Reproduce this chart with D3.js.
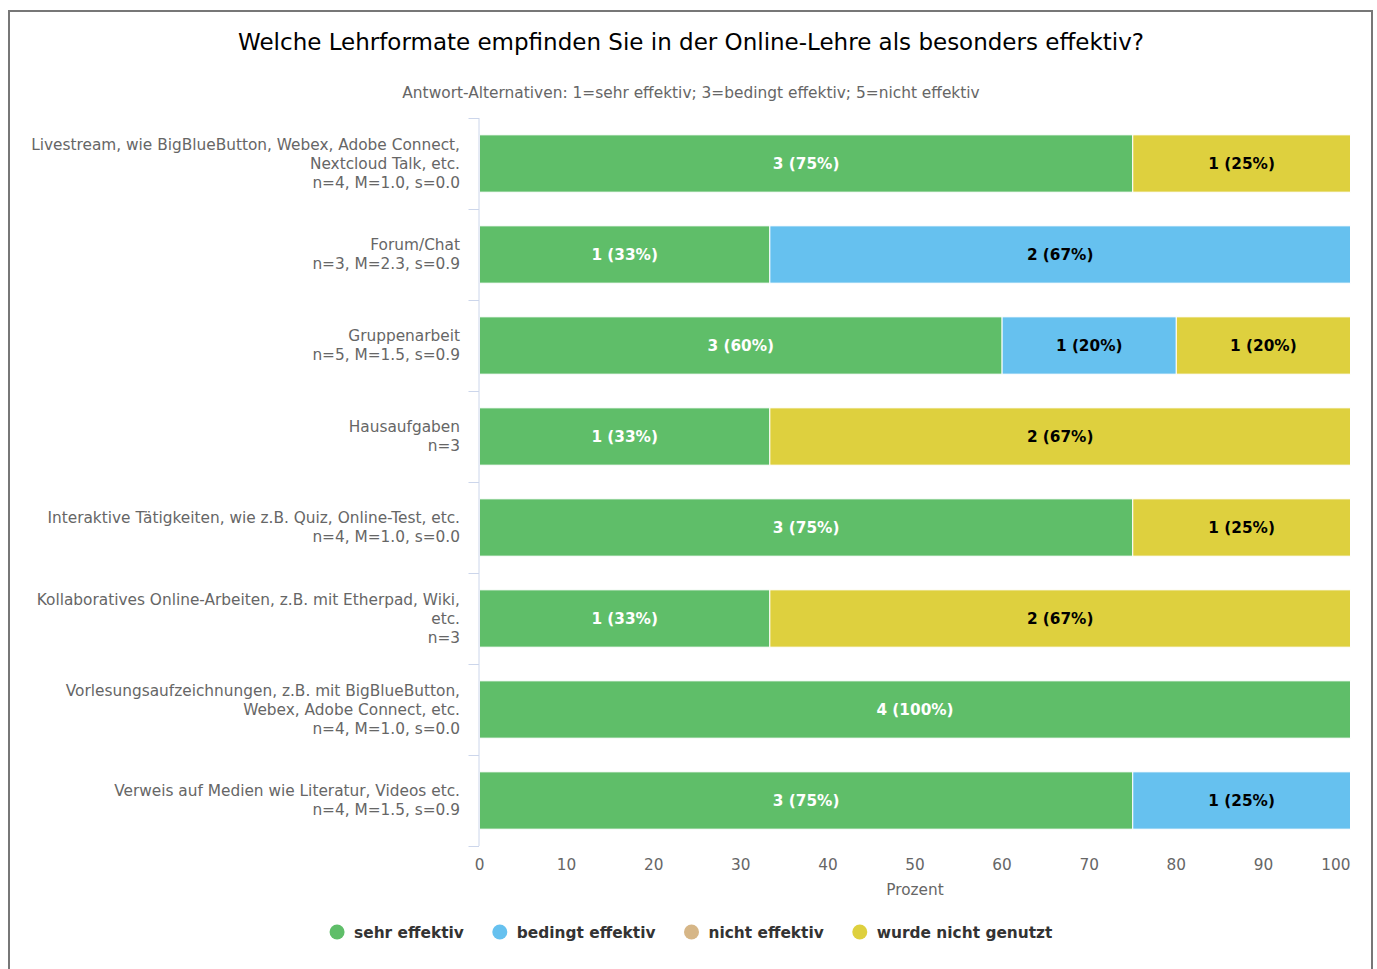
<!DOCTYPE html>
<html>
<head>
<meta charset="utf-8">
<script src="https://cdn.jsdelivr.net/npm/d3@7"></script>
<style>
  html, body { margin: 0; padding: 0; background: #fff; }
  svg { display: block; font-family: "DejaVu Sans", sans-serif; }
</style>
</head>
<body>
<svg id="chart" width="1377" height="969"></svg>
<script>
const title = "Welche Lehrformate empfinden Sie in der Online-Lehre als besonders effektiv?";
const subtitle = "Antwort-Alternativen: 1=sehr effektiv; 3=bedingt effektiv; 5=nicht effektiv";
const categories = [
  ["Livestream, wie BigBlueButton, Webex, Adobe Connect,", "Nextcloud Talk, etc.", "n=4, M=1.0, s=0.0"],
  ["Forum/Chat", "n=3, M=2.3, s=0.9"],
  ["Gruppenarbeit", "n=5, M=1.5, s=0.9"],
  ["Hausaufgaben", "n=3"],
  ["Interaktive Tätigkeiten, wie z.B. Quiz, Online-Test, etc.", "n=4, M=1.0, s=0.0"],
  ["Kollaboratives Online-Arbeiten, z.B. mit Etherpad, Wiki,", "etc.", "n=3"],
  ["Vorlesungsaufzeichnungen, z.B. mit BigBlueButton,", "Webex, Adobe Connect, etc.", "n=4, M=1.0, s=0.0"],
  ["Verweis auf Medien wie Literatur, Videos etc.", "n=4, M=1.5, s=0.9"]
];
const seriesNames = ["sehr effektiv", "bedingt effektiv", "nicht effektiv", "wurde nicht genutzt"];
const seriesColors = ["#5fbe69", "#66c1ef", "#d6b687", "#ded03e"];
const labelColors = ["#ffffff", "#000000", "#000000", "#000000"];
// counts per category for each series
const sehrEffektiv     = [3, 1, 3, 1, 3, 1, 4, 3];
const bedingtEffektiv  = [0, 2, 1, 0, 0, 0, 0, 1];
const nichtEffektiv    = [0, 0, 0, 0, 0, 0, 0, 0];
const nichtGenutzt     = [1, 0, 1, 2, 1, 2, 0, 0];
const seriesCounts = [sehrEffektiv, bedingtEffektiv, nichtEffektiv, nichtGenutzt];
const xTicks = [0, 10, 20, 30, 40, 50, 60, 70, 80, 90, 100];
const xAxisTitle = "Prozent";

const svg = d3.select("#chart");

// outer frame
svg.append("rect").attr("x", 9).attr("y", 11).attr("width", 1363).attr("height", 970)
  .attr("fill", "none").attr("stroke", "#777").attr("stroke-width", 2);

// title & subtitle
svg.append("text").attr("x", 691).attr("y", 50).attr("text-anchor", "middle")
  .attr("font-size", 23).attr("fill", "#000").text(title);
svg.append("text").attr("x", 691).attr("y", 98).attr("text-anchor", "middle")
  .attr("font-size", 15.4).attr("fill", "#666").text(subtitle);

const plot = { left: 479.5, right: 1350.5, top: 118, bottom: 846 };

const x = d3.scaleLinear().domain([0, 100]).range([plot.left, plot.right]);
const y = d3.scaleBand().domain(d3.range(categories.length))
  .range([plot.top, plot.bottom]).paddingInner(0.37).paddingOuter(0.185);

// build stacked data (percentages from counts)
const totals = categories.map((_, i) => d3.sum(seriesCounts, s => s[i]));
const rows = categories.map((_, i) => {
  const r = { idx: i };
  seriesNames.forEach((n, k) => r[n] = seriesCounts[k][i] / totals[i] * 100);
  return r;
});
const stack = d3.stack().keys(seriesNames)(rows);

// bars
stack.forEach((layer, k) => {
  const g = svg.append("g");
  layer.forEach((d, i) => {
    const w = x(d[1]) - x(d[0]);
    if (w <= 0) return;
    g.append("rect")
      .attr("x", x(d[0])).attr("y", y(i))
      .attr("width", w).attr("height", y.bandwidth())
      .attr("fill", seriesColors[k]).attr("stroke", "#fff").attr("stroke-width", 1);
  });
});
// data labels
stack.forEach((layer, k) => {
  layer.forEach((d, i) => {
    const c = seriesCounts[k][i];
    if (!c) return;
    const pct = Math.round(c / totals[i] * 100);
    svg.append("text")
      .attr("x", (x(d[0]) + x(d[1])) / 2).attr("y", y(i) + y.bandwidth() / 2)
      .attr("dy", "0.36em").attr("text-anchor", "middle")
      .attr("font-size", 15.3).attr("font-weight", "bold")
      .attr("fill", labelColors[k]).text(`${c} (${pct}%)`);
  });
});

// y axis line and ticks
const axisColor = "#ccd6eb";
svg.append("line").attr("x1", plot.left - 0.5).attr("x2", plot.left - 0.5)
  .attr("y1", plot.top).attr("y2", plot.bottom).attr("stroke", axisColor).attr("stroke-width", 1);
for (let i = 0; i <= categories.length; i++) {
  const yy = Math.round(plot.top + i * (plot.bottom - plot.top) / categories.length) + 0.5;
  svg.append("line").attr("x1", plot.left - 11).attr("x2", plot.left - 0.5)
    .attr("y1", yy).attr("y2", yy).attr("stroke", axisColor).attr("stroke-width", 1);
}

// category labels
categories.forEach((lines, i) => {
  const cy = y(i) + y.bandwidth() / 2;
  const lh = 19;
  const t = svg.append("text").attr("text-anchor", "end").attr("font-size", 15.35).attr("fill", "#666");
  lines.forEach((ln, j) => {
    t.append("tspan").attr("x", 460)
      .attr("y", cy + (j - (lines.length - 1) / 2) * lh + 5).text(ln);
  });
});

// x axis tick labels
xTicks.forEach((v, i) => {
  const last = i === xTicks.length - 1;
  svg.append("text")
    .attr("x", last ? plot.right : x(v)).attr("y", 870)
    .attr("text-anchor", last ? "end" : "middle")
    .attr("font-size", 15.3).attr("fill", "#666").text(v);
});
svg.append("text").attr("x", (plot.left + plot.right) / 2).attr("y", 895)
  .attr("text-anchor", "middle").attr("font-size", 15.3).attr("fill", "#666").text(xAxisTitle);

// legend
const lg = svg.append("g");
let cx = 0;
seriesNames.forEach((n, k) => {
  const g = lg.append("g");
  g.append("circle").attr("cx", cx).attr("cy", 932).attr("r", 7.5).attr("fill", seriesColors[k]);
  const t = g.append("text").attr("x", cx + 17).attr("y", 937.5)
    .attr("font-size", 15.4).attr("font-weight", "bold").attr("fill", "#333").text(n);
  const tw = t.node().getComputedTextLength();
  cx = cx + 17 + tw + 36;
});
const bb = lg.node().getBBox();
lg.attr("transform", `translate(${691 - (bb.x + bb.width / 2)},0)`);
</script>
</body>
</html>
